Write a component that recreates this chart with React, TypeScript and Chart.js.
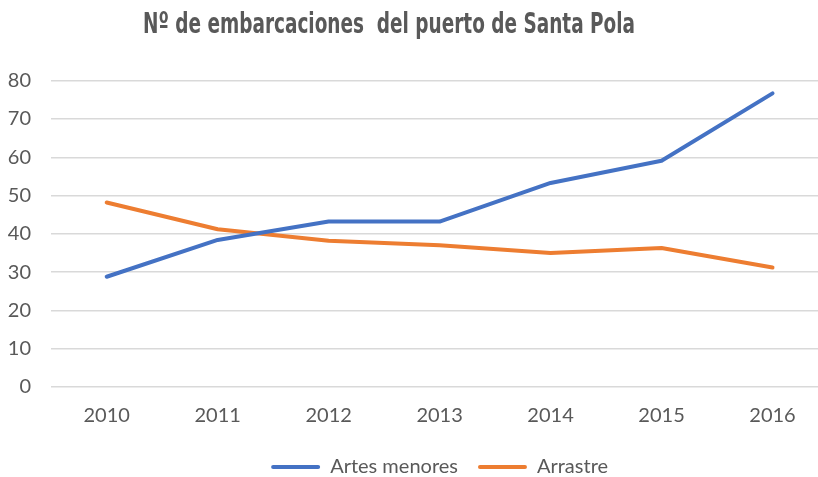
import React, { useEffect, useRef } from "react";
import { Chart, registerables } from "chart.js";

Chart.register(...registerables);

const TITLE = "Nº de embarcaciones  del puerto de Santa Pola";
const YEARS = ["2010", "2011", "2012", "2013", "2014", "2015", "2016"];
const ARTES_MENORES = [28.8, 38.4, 43.2, 43.2, 53.3, 59.1, 76.7];
const ARRASTRE = [48.2, 41.2, 38.2, 37.0, 35.0, 36.3, 31.2];
const Y_MIN = 0;
const Y_MAX = 80;
const Y_STEP = 10;

const BLUE = "#4472C4";
const ORANGE = "#ED7D31";
const TEXT = "#595959";
const GRID = "#D9D9D9";
const FONT = "Lato, 'Open Sans', sans-serif";

const titlePlugin = {
  id: "customTitle",
  afterDraw(chart: any) {
    const ctx = chart.ctx;
    ctx.save();
    ctx.font = "bold 29px 'Liberation Sans Narrow', 'DejaVu Sans Condensed', 'Roboto', sans-serif";
    ctx.fillStyle = TEXT;
    ctx.textBaseline = "alphabetic";
    ctx.textAlign = "center";
    const w = ctx.measureText(TITLE).width;
    const sx = 492 / w;
    ctx.translate(389, 33);
    ctx.scale(sx, 1);
    ctx.fillText(TITLE, 0, 0);
    ctx.restore();
  },
};

export default function App() {
  const ref = useRef<HTMLCanvasElement | null>(null);
  useEffect(() => {
    if (!ref.current) return;
    const mk = (label: string, data: number[], color: string) => ({
      label,
      data,
      borderColor: color,
      backgroundColor: color,
      borderWidth: 4,
      pointRadius: 0,
      borderJoinStyle: "round" as const,
      borderCapStyle: "round" as const,
      tension: 0,
    });
    const chart = new Chart(ref.current, {
      type: "line",
      data: {
        labels: YEARS,
        datasets: [mk("Artes menores", ARTES_MENORES, BLUE), mk("Arrastre", ARRASTRE, ORANGE)],
      },
      options: {
        animation: false,
        responsive: false,
        maintainAspectRatio: false,
        layout: { padding: { top: 80.7, left: 0, right: 0, bottom: 0 } },
        plugins: {
          title: { display: false },
          tooltip: { enabled: false },
          legend: {
            position: "bottom",
            fullSize: false,
            labels: {
              boxWidth: 49,
              boxHeight: 4,
              color: TEXT,
              font: { family: FONT, size: 20 },
              padding: 20,
              useBorderRadius: true,
              borderRadius: 2,
              generateLabels: (c: any) =>
                Chart.defaults.plugins.legend.labels.generateLabels(c).map((it: any) => ({ ...it, lineWidth: 0 })),
            },
          },
        },
        scales: {
          x: {
            offset: true,
            grid: { display: false, drawTicks: false },
            border: { display: false },
            ticks: { color: TEXT, font: { family: FONT, size: 20, lineHeight: 1.2 }, padding: 17, maxRotation: 0 },
            afterFit: (s: any) => {
              s.height = 50;
            },
          },
          y: {
            min: Y_MIN,
            max: Y_MAX,
            grid: { color: GRID, lineWidth: 1.5, drawTicks: false },
            border: { display: false },
            ticks: { stepSize: Y_STEP, color: TEXT, font: { family: FONT, size: 20 }, padding: 20.2 },
            afterFit: (s: any) => {
              s.width = 51.2;
            },
          },
        },
      },
      plugins: [titlePlugin],
    });
    return () => chart.destroy();
  }, []);
  return (
    <div style={{ position: "fixed", left: 0, top: 0, width: 818, height: 477, overflow: "hidden", background: "#fff" }}>
      <canvas ref={ref} width={828} height={487} style={{ display: "block" }} />
    </div>
  );
}
